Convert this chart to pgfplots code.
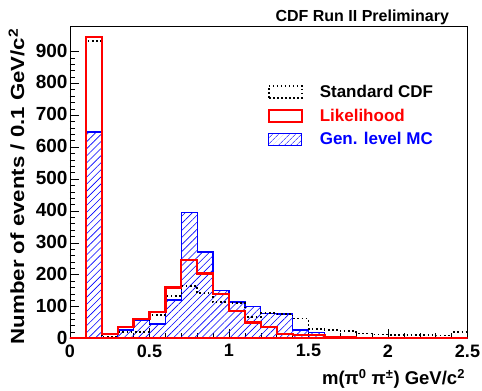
\documentclass[border=0pt]{standalone}
\usepackage{fontspec}
\setmainfont{Liberation Sans}
\usepackage{pgfplots}
\usepackage{pgfplotstable}
\pgfplotsset{compat=1.18}
\usetikzlibrary{patterns.meta}
\pgfplotstableread{
x    std  like gen
0.0  0    1    0
0.1  932  946  648
0.2  4    13   4
0.3  21   35   27
0.4  21   60   58
0.5  74   82   45
0.6  133  160  121
0.7  165  246  396
0.8  142  204  271
0.9  114  140  151
1.0  112  86   114
1.1  68   50   100
1.2  79   37   78
1.3  77   13   77
1.4  63   11   27
1.5  29   11   19
1.6  27   4    4
1.7  24   3    2
1.8  16   2    1
1.9  12   2    1
2.0  11   2    1
2.1  10   2    1
2.2  10   2    1
2.3  9    2    1
2.4  20   2    1
2.5  20   2    1
}\data
\begin{document}
\begin{tikzpicture}
\begin{axis}[
  scale only axis, width=397.5pt, height=312.5pt,
  xmin=0, xmax=2.5, ymin=0, ymax=980,
  xtick={0,0.5,1,1.5,2,2.5}, ytick={0,100,...,900},
  minor x tick num=4, minor y tick num=4,
  tick pos=left, tick align=inside,
  major tick length=9pt, minor tick length=5pt,
  every tick/.style={black, line width=0.6pt},
  axis line style={line width=0.8pt},
  /pgf/number format/assume math mode=true,
  xticklabel style={font=\fontsize{18}{18}\selectfont\bfseries, yshift=-2.5pt},
  yticklabel style={font=\fontsize{19}{19}\selectfont\bfseries, xshift=1pt, yshift=1pt},
  legend style={at={(rel axis cs:0.49,0.825)}, anchor=north west, draw=none, fill=none,
    font=\fontsize{17}{17}\selectfont\bfseries, row sep=6pt,
    /tikz/every even column/.append style={column sep=0pt}},
  legend cell align=left,
  legend image code/.code={\draw[#1] (0pt,-6pt) rectangle (33pt,6pt); \path (48pt,0pt);},
]
\addlegendimage{black, line width=1.5pt, dash pattern=on 1.5pt off 2.5pt}
\addlegendentry{Standard CDF}
\addlegendimage{red, line width=1.8pt}
\addlegendentry{\textcolor{red}{Likelihood}}
\addlegendimage{blue, line width=1.2pt, pattern={Lines[angle=45,distance=4pt,line width=0.6pt]}, pattern color=blue}
\addlegendentry{\textcolor{blue}{Gen. level MC}}

\addplot[forget plot, const plot, draw=blue, line width=1.3pt,
  pattern={Lines[angle=45,distance=5pt,line width=0.6pt]}, pattern color=blue]
  table[x=x,y=gen]{\data} \closedcycle;
\addplot[forget plot, const plot, black, line width=1.6pt, dash pattern=on 1.6pt off 2.6pt]
  table[x=x,y=std]{\data} \closedcycle;
\addplot[forget plot, const plot, red, line width=2.2pt]
  table[x=x,y=like]{\data} \closedcycle;
\end{axis}
\node[anchor=base east, font=\fontsize{16}{16}\selectfont\bfseries]
  at ([xshift=-15pt,yshift=4pt]current axis.north east) {CDF Run II Preliminary};
\node[anchor=base east, font=\fontsize{18.5}{18.5}\selectfont\bfseries]
  at ([xshift=1pt,yshift=-46.5pt]current axis.south east) {m(π\textsuperscript{0} π\textsuperscript{±}) GeV/c\textsuperscript{2}};
\node[rotate=90, anchor=south east, font=\fontsize{19}{19}\selectfont\bfseries]
  at ([xshift=-42pt,yshift=1pt]current axis.north west) {\scalebox{1.17}[1]{Number of events / 0.1 GeV/c\textsuperscript{2}}};
\pgfresetboundingbox
\path[use as bounding box] ([xshift=-70pt,yshift=-52.5pt]current axis.south west) rectangle ([xshift=14.5pt,yshift=26pt]current axis.north east);
\end{tikzpicture}
\end{document}
